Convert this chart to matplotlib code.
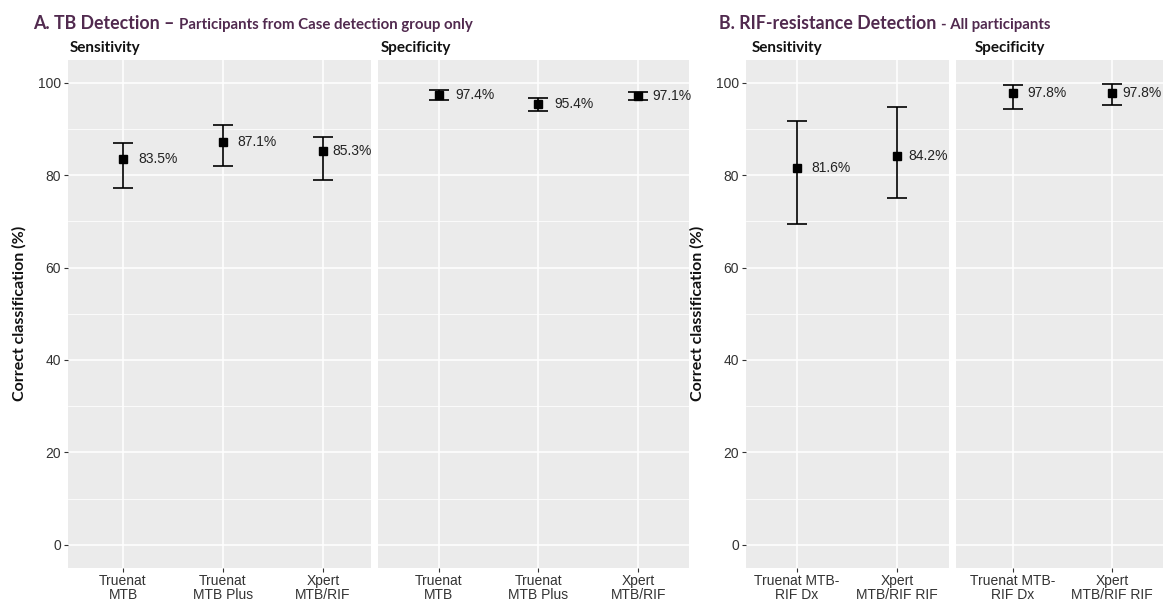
import matplotlib
matplotlib.use("Agg")
import matplotlib.pyplot as plt
import numpy as np

# ---- data -------------------------------------------------------------
tb_tests = ["Truenat\nMTB", "Truenat\nMTB Plus", "Xpert\nMTB/RIF"]
tb_sens = [83.5, 87.1, 85.3]
tb_sens_lo = [77.1, 82.0, 79.0]
tb_sens_hi = [86.9, 90.9, 88.3]
tb_spec = [97.4, 95.4, 97.1]
tb_spec_lo = [96.2, 93.8, 96.2]
tb_spec_hi = [98.3, 96.7, 98.0]

rif_tests = ["Truenat MTB-\nRIF Dx", "Xpert\nMTB/RIF RIF"]
rif_sens = [81.6, 84.2]
rif_sens_lo = [69.5, 75.1]
rif_sens_hi = [91.6, 94.7]
rif_spec = [97.8, 97.8]
rif_spec_lo = [94.4, 95.2]
rif_spec_hi = [99.4, 99.6]

y_ticks = [0, 20, 40, 60, 80, 100]

# ---- style ------------------------------------------------------------
W, H = 1163, 601
DPI = 100
PANEL_BG = "#EBEBEB"
TITLE_COL = "#512A4F"
TEXT_COL = "#222222"
TICK_COL = "#333333"
HEAD_FONT = ["Lato", "DejaVu Sans"]
BODY_FONT = ["Liberation Sans", "DejaVu Sans"]

fig = plt.figure(figsize=(W / DPI, H / DPI), dpi=DPI)
fig.patch.set_facecolor("white")


def px_axes(x0, x1, y0, y1):
    return fig.add_axes([x0 / W, 1 - y1 / H, (x1 - x0) / W, (y1 - y0) / H])


def facet(ax, labels, vals, lo, hi, xlim, show_y, label_dx):
    x = np.arange(1, len(labels) + 1)
    ax.set_facecolor(PANEL_BG)
    for s in ax.spines.values():
        s.set_visible(False)
    ax.set_xlim(*xlim)
    ax.set_ylim(-5, 105)
    ax.set_yticks(y_ticks)
    ax.set_yticks(np.arange(10, 100, 20), minor=True)
    ax.set_xticks(x)
    ax.set_xticklabels(labels, fontfamily=BODY_FONT, fontsize=10,
                       color=TICK_COL, linespacing=1.0)
    ax.grid(True, which="major", color="white", linewidth=1.1)
    ax.grid(True, which="minor", axis="y", color="white", linewidth=0.55)
    ax.set_axisbelow(True)
    ax.tick_params(axis="both", which="major", length=3, width=0.8,
                   color="#333333", pad=2)
    ax.tick_params(axis="x", which="major", pad=1.5)
    ax.tick_params(axis="y", which="minor", length=0)
    if show_y:
        ax.set_yticklabels([str(t) for t in y_ticks], fontfamily=BODY_FONT,
                           fontsize=10, color=TICK_COL)
        ax.set_ylabel("Correct classification (%)", fontfamily=HEAD_FONT,
                      fontweight="bold", fontsize=11.5, color="#111111",
                      labelpad=8)
    else:
        ax.tick_params(axis="y", which="major", length=0, labelleft=False)

    vals = np.asarray(vals)
    err = np.vstack([vals - np.asarray(lo), np.asarray(hi) - vals])
    ax.errorbar(x, vals, yerr=err, fmt="s", color="black", ecolor="black",
                markersize=6, elinewidth=1.2, capsize=7, capthick=1.2,
                zorder=3)
    # value labels, offset to the right of each point (offsets in pixels)
    for xi, v, dx in zip(x, vals, label_dx):
        ax.annotate(f"{v:.1f}%", (xi, v), xytext=(dx * 72 / DPI, 0),
                    textcoords="offset points", ha="left", va="center",
                    fontsize=10, fontfamily=BODY_FONT, color=TEXT_COL)


# Panel A: TB detection
ax_a1 = px_axes(68, 371, 59.5, 568)
facet(ax_a1, tb_tests, tb_sens, tb_sens_lo, tb_sens_hi, (0.45, 3.48), True,
      [15, 14, 9])
ax_a2 = px_axes(378, 689, 59.5, 568)
facet(ax_a2, tb_tests, tb_spec, tb_spec_lo, tb_spec_hi, (0.39, 3.51), False,
      [17, 16, 14])

# Panel B: RIF-resistance detection
ax_b1 = px_axes(746, 949, 59.5, 568)
facet(ax_b1, rif_tests, rif_sens, rif_sens_lo, rif_sens_hi, (0.49, 2.52), True,
      [14, 11])
ax_b2 = px_axes(956, 1163, 59.5, 568)
facet(ax_b2, rif_tests, rif_spec, rif_spec_lo, rif_spec_hi, (0.43, 2.51), False,
      [15, 10])

# Strip headings
for x0, name in [(70, "Sensitivity"), (381, "Specificity"),
                 (752, "Sensitivity"), (975, "Specificity")]:
    fig.text(x0 / W, 1 - 48 / H, name, fontfamily=HEAD_FONT,
             fontweight="bold", fontsize=11, color="#111111",
             ha="left", va="center")


def two_part_title(x_px, y_px, big, small):
    t1 = fig.text(x_px / W, 1 - y_px / H, big, fontfamily=HEAD_FONT,
                  fontweight="bold", fontsize=12.8, color=TITLE_COL,
                  ha="left", va="baseline")
    fig.canvas.draw()
    bb = t1.get_window_extent()
    fig.text(bb.x1 / W, 1 - y_px / H, small, fontfamily=HEAD_FONT,
             fontweight="bold", fontsize=10.8, color=TITLE_COL,
             ha="left", va="baseline")


two_part_title(33, 29, "A. TB Detection \u2013 ",
               "Participants from Case detection group only")
two_part_title(719, 29, "B. RIF-resistance Detection ", "- All participants")

fig.savefig("out.png", dpi=DPI, facecolor="white")
